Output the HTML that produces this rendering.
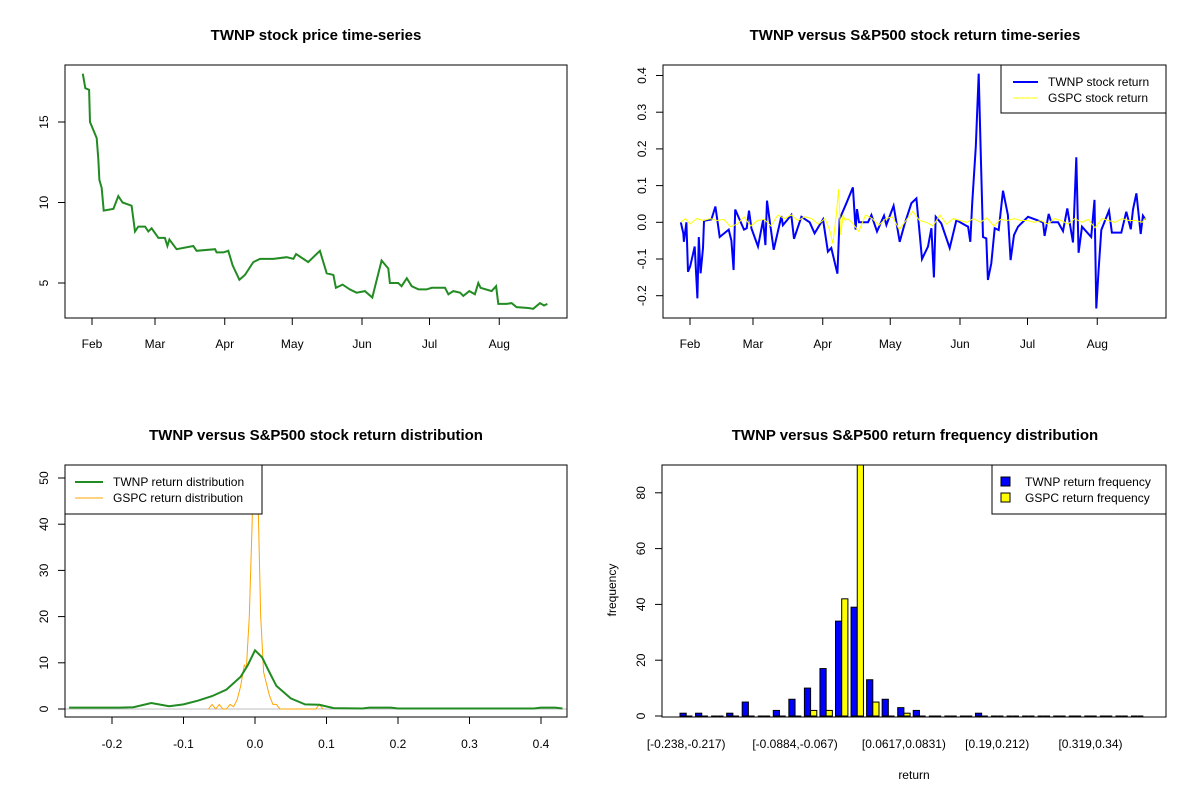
<!DOCTYPE html>
<html><head><meta charset="utf-8"><style>
body{margin:0;background:#fff}
svg{display:block;font-family:"Liberation Sans",Arial,sans-serif}
</style></head><body>
<svg id="c" width="1200" height="800" viewBox="0 0 1200 800">
<defs>
<clipPath id="cp3"><rect x="65" y="465" width="502" height="252"/></clipPath>
<clipPath id="cp4"><rect x="662" y="465" width="504" height="252"/></clipPath>
</defs>
</svg>
<script>
// ---- data ----
const priceDays=[-4.1,-3,-1.3,-0.9,2.1,2.8,3.3,4.3,5.2,9.5,11.7,13.6,17.6,19.1,20.6,23.6,25,26.5,29.5,32.4,33.5,34.4,37.6,45,46.5,54.7,55.4,58.4,60.6,62.5,65.5,68,71.7,74.7,80.6,86.5,89.5,90.7,96.1,101.3,104.3,107.3,108.4,111.4,114.6,117.6,121.3,124.6,128.7,131.7,132.4,136.1,137.6,139.9,142.1,145.1,148.7,151,156.9,158.4,160.6,163.6,165,167.7,170.2,171.7,172.7,177.6,179.6,180.6,184.3,186.5,188.7,193.9,196.1,199.1,200.9,202.4];
const priceVals=[18.0,17.1,17.0,15.0,14.0,12.7,11.4,10.9,9.5,9.6,10.4,10.0,9.8,8.2,8.5,8.5,8.2,8.4,7.8,7.8,7.3,7.7,7.1,7.3,7.0,7.1,6.9,6.9,7.0,6.1,5.2,5.5,6.3,6.5,6.5,6.6,6.5,6.8,6.3,7.0,5.6,5.5,4.7,4.9,4.6,4.4,4.5,4.1,6.4,5.9,5.0,5.0,4.8,5.3,4.8,4.6,4.6,4.7,4.7,4.3,4.5,4.4,4.2,4.5,4.3,5.0,4.7,4.5,4.8,3.7,3.7,3.75,3.5,3.45,3.4,3.75,3.6,3.7];
const retDays=[-4.1,-3,-2.7,-1.6,-0.9,0.1,2.1,3.3,3.9,4.7,5.8,6.2,9.5,11.3,13.2,17.2,18.4,19.4,20.1,24,25.2,26.2,27.3,30.2,32.5,33.5,34.2,35.4,37.2,40.6,41.3,45,46.2,49.5,53.2,55.4,59.1,61.3,62.8,65.5,66.5,69.5,72.4,73.6,74.2,75.1,79.1,80.6,83.1,86.2,87.3,90.5,93.2,95.4,98.4,100.6,103.1,105.8,107.3,108.4,109.2,111.7,115.4,118.4,122.1,123.6,124.6,125.4,127,128.3,129.2,130.2,131.7,132.4,133.9,135.4,137.2,139.1,141.3,142.5,144,145.8,150.2,156.9,157.6,159.4,160.6,163.6,165.8,167.7,170.2,171.7,172.7,174.2,178.3,179.8,180.6,181.6,182.8,186.2,187.5,191.7,193.9,195.9,196.9,198.4,200.3,201.3,202.4];
const twnpRet=[0,-0.03,-0.053,0,-0.135,-0.12,-0.066,-0.207,-0.04,-0.139,-0.07,0.004,0.008,0.043,-0.04,-0.02,-0.05,-0.13,0.035,-0.02,-0.016,0.032,-0.016,-0.066,0.006,-0.062,0.059,0.006,-0.075,0.017,-0.008,0.02,-0.045,0.015,0,-0.03,0.008,-0.08,-0.07,-0.14,0.009,0.052,0.095,-0.02,0.036,0,0,0.02,-0.025,0.018,-0.007,0.045,-0.053,-0.005,0.052,0.065,-0.1,-0.066,-0.016,-0.15,0.015,-0.003,-0.07,0.006,-0.007,-0.012,-0.053,0.052,0.206,0.405,0.193,-0.04,-0.044,-0.157,-0.112,-0.016,-0.021,0.086,0.02,-0.103,-0.035,-0.012,0.015,0,-0.037,0.023,0,0,-0.024,0.038,-0.055,0.177,-0.083,-0.012,-0.04,0.061,-0.235,-0.13,-0.021,0.032,-0.028,-0.028,0.029,-0.019,0.035,0.079,-0.032,0.018,0.008];
const gspcDays=[-4.1,-2,0,3,6,9,12,15,18,21,24,27,30,33,36,39,42,45,48,51,54,57,60,62,63.5,65,66,67,68,69,70,72,75,78,81,84,87,90,93,96,99,102,105,108,111,114,117,120,123,126,129,132,135,138,141,144,147,150,153,156,159,162,165,168,171,174,177,180,183,186,189,192,195,198,201,202.4];
const gspcRet=[0,0.01,-0.005,0.01,0.005,0.01,0.005,0.008,-0.012,-0.005,0.015,-0.01,0.005,0.008,-0.01,0.02,0.01,0.02,0.005,0.015,0.01,-0.005,0.01,-0.02,-0.058,0.02,0.09,-0.035,0.02,0.005,0.01,0,-0.025,0.02,0.01,-0.008,0.01,0.015,-0.02,0.005,0.03,0.005,0,-0.01,0.02,-0.005,0.01,0.005,0,0.01,0,0.012,-0.01,0.008,0.005,0.01,0.005,0.005,0,0.005,-0.005,0.01,0.005,-0.005,0.01,0,0.008,-0.015,0.01,0.005,0,0.01,0.005,0.005,0,0.012];
const monthLabels=["Feb","Mar","Apr","May","Jun","Jul","Aug"];
const monthDays=[0,28,59,89,120,150,181];
const twnpDensX=[-0.26,-0.19,-0.17,-0.145,-0.12,-0.1,-0.08,-0.06,-0.04,-0.02,-0.01,0,0.01,0.02,0.03,0.05,0.07,0.09,0.11,0.15,0.16,0.19,0.2,0.39,0.4,0.42,0.43];
const twnpDensY=[0.3,0.3,0.4,1.3,0.6,1,1.8,2.8,4.2,7,9.5,12.7,11.2,8,5,2.3,1,0.9,0.2,0.1,0.3,0.3,0.1,0.1,0.3,0.3,0.1];
const gspcDensX=[-0.065,-0.06,-0.055,-0.05,-0.045,-0.04,-0.035,-0.03,-0.025,-0.02,-0.015,-0.012,-0.008,-0.004,-0.002,0.002,0.005,0.008,0.012,0.02,0.025,0.03,0.035,0.085,0.09,0.095];
const gspcDensY=[0,1,0,1,0,0,1,0.5,2,5,9.5,9,20,40,60,60,40,20,8,3,1,1,0,0,1,0];
const binLabels=["[-0.238,-0.217)","[-0.0884,-0.067)","[0.0617,0.0831)","[0.19,0.212)","[0.319,0.34)"];
const binLabelIdx=[0,7,14,20,26];
const twnpFreq=[1,1,0,1,5,0,2,6,10,17,34,39,13,6,3,2,0,0,0,1,0,0,0,0,0,0,0,0,0,0];
const gspcFreq=[0,0,0,0,0,0,0,0,2,2,42,105,5,0,1,0,0,0,0,0,0,0,0,0,0,0,0,0,0,0];

const svg=document.getElementById('c');
const NS='http://www.w3.org/2000/svg';
function el(tag,attrs,parent){const e=document.createElementNS(NS,tag);for(const k in attrs)e.setAttribute(k,attrs[k]);(parent||svg).appendChild(e);return e;}
function txt(s,x,y,attrs,parent){const t=el('text',Object.assign({x:x,y:y,'font-size':12,fill:'#000','text-anchor':'middle'},attrs||{}),parent);t.textContent=s;return t;}
function pathOf(xs,ys,fx,fy){return xs.map((v,i)=>(i?'L':'M')+fx(v).toFixed(1)+','+fy(ys[i]).toFixed(1)).join('');}

// ---- Panel 1 ----
const dx=d=>92+d*2.25;
const p1y=v=>283-(v-5)*16.1;
let g=el('g',{});


let t=txt('TWNP stock price time-series',316,40,{'font-size':15,'font-weight':'bold'});

let r=el('rect',{x:65,y:65,width:502,height:253,fill:'none',stroke:'#000'},g);

let ln=el('path',{d:pathOf(priceDays,priceVals,dx,p1y),fill:'none',stroke:'#228B22','stroke-width':2},g);

[5,10,15].forEach(v=>{el('line',{x1:58,x2:65,y1:p1y(v),y2:p1y(v),stroke:'#000'},g);
 const tt=txt(String(v),48,p1y(v),{transform:`rotate(-90 48 ${p1y(v)})`},g);
 });
monthDays.forEach((d,i)=>{el('line',{x1:dx(d),x2:dx(d),y1:318,y2:325,stroke:'#000'},g);
 const tt=txt(monthLabels[i],dx(d),348,{},g);});

// ---- Panel 2 ----
const p2y=v=>222.3-v*367;
g=el('g',{});


t=txt('TWNP versus S&P500 stock return time-series',915,40,{'font-size':15,'font-weight':'bold'});

const dx2=d=>dx(d)+598;
ln=el('path',{d:pathOf(retDays,twnpRet,dx2,p2y),fill:'none',stroke:'#0000FF','stroke-width':2},g);

ln=el('path',{d:pathOf(gspcDays,gspcRet,dx2,p2y),fill:'none',stroke:'#FFFF00','stroke-width':1},g);

r=el('rect',{x:663,y:65,width:503,height:253,fill:'none',stroke:'#000'},g);

[-0.2,-0.1,0,0.1,0.2,0.3,0.4].forEach(v=>{el('line',{x1:656,x2:663,y1:p2y(v),y2:p2y(v),stroke:'#000'},g);
 const s=v===0?'0.0':v.toFixed(1);const tt=txt(s,646,p2y(v),{transform:`rotate(-90 646 ${p2y(v)})`},g);
 });
monthDays.forEach((d,i)=>{el('line',{x1:dx2(d),x2:dx2(d),y1:318,y2:325,stroke:'#000'},g);
 const tt=txt(monthLabels[i],dx2(d),348,{},g);});
let lg=el('g',{},g);
el('rect',{x:1001,y:65,width:165,height:48,fill:'#fff',stroke:'#000'},lg);
el('line',{x1:1013,x2:1038,y1:82,y2:82,stroke:'#0000FF','stroke-width':2},lg);
el('line',{x1:1013,x2:1038,y1:98,y2:98,stroke:'#FFFF00','stroke-width':1},lg);
txt('TWNP stock return',1048,86,{'text-anchor':'start'},lg);
txt('GSPC stock return',1048,102,{'text-anchor':'start'},lg);

// ---- Panel 3 ----
const p3x=v=>255+v*715;
const p3y=v=>709-v*4.62;
g=el('g',{});


t=txt('TWNP versus S&P500 stock return distribution',316,440,{'font-size':15,'font-weight':'bold'});

el('line',{x1:65,x2:567,y1:p3y(0),y2:p3y(0),stroke:'#bebebe'},g);
let cg=el('g',{'clip-path':'url(#cp3)'},g);
ln=el('path',{d:pathOf(gspcDensX,gspcDensY,p3x,p3y),fill:'none',stroke:'#FFA500','stroke-width':1},cg);

ln=el('path',{d:pathOf(twnpDensX,twnpDensY,p3x,p3y),fill:'none',stroke:'#228B22','stroke-width':2},cg);

r=el('rect',{x:65,y:465,width:502,height:252,fill:'none',stroke:'#000'},g);

[0,10,20,30,40,50].forEach(v=>{el('line',{x1:58,x2:65,y1:p3y(v),y2:p3y(v),stroke:'#000'},g);
 const tt=txt(String(v),48,p3y(v),{transform:`rotate(-90 48 ${p3y(v)})`},g);
 });
[-0.2,-0.1,0,0.1,0.2,0.3,0.4].forEach(v=>{el('line',{x1:p3x(v),x2:p3x(v),y1:717,y2:724,stroke:'#000'},g);
 const tt=txt(v===0?'0.0':v.toFixed(1),p3x(v),748,{},g);});
lg=el('g',{},g);
el('rect',{x:65,y:465,width:197,height:49,fill:'#fff',stroke:'#000'},lg);
el('line',{x1:75,x2:103,y1:482,y2:482,stroke:'#228B22','stroke-width':2},lg);
el('line',{x1:75,x2:103,y1:498,y2:498,stroke:'#FFA500','stroke-width':1},lg);
txt('TWNP return distribution',113,486,{'text-anchor':'start'},lg);
txt('GSPC return distribution',113,502,{'text-anchor':'start'},lg);

// ---- Panel 4 ----
const p4y=v=>716-v*2.79;
const grpX=i=>680+i*15.55;
const bw=6.2;
g=el('g',{});


t=txt('TWNP versus S&P500 return frequency distribution',915,440,{'font-size':15,'font-weight':'bold'});

cg=el('g',{'clip-path':'url(#cp4)'},g);
function drawBar(x,v,fill,name){
 let b;
 if(v>0){b=el('rect',{x:x,y:p4y(v),width:bw,height:716-p4y(v),fill:fill,stroke:'#000','stroke-width':1},cg);}
 else{b=el('line',{x1:x,x2:x+bw,y1:716,y2:716,stroke:'#000','stroke-width':1},cg);}
 
 
}
twnpFreq.forEach((v,i)=>drawBar(grpX(i),v,'#0000FF','twnp-freq-bar'));
gspcFreq.forEach((v,i)=>drawBar(grpX(i)+bw,v,'#FFFF00','gspc-freq-bar'));
r=el('rect',{x:662,y:465,width:504,height:252,fill:'none',stroke:'#000'},g);

[0,20,40,60,80].forEach(v=>{el('line',{x1:655,x2:662,y1:p4y(v),y2:p4y(v),stroke:'#000'},g);
 const tt=txt(String(v),645,p4y(v),{transform:`rotate(-90 645 ${p4y(v)})`},g);
 });
binLabelIdx.forEach((bi,k)=>{const tt=txt(binLabels[k],grpX(bi)+bw,748,{},g);
 });
t=txt('frequency',616,590,{transform:'rotate(-90 616 590)'});

t=txt('return',914,779,{});

lg=el('g',{},g);
el('rect',{x:992,y:465,width:174,height:49,fill:'#fff',stroke:'#000'},lg);
el('rect',{x:1001,y:477,width:9,height:9,fill:'#0000FF',stroke:'#000'},lg);
el('rect',{x:1001,y:493,width:9,height:9,fill:'#FFFF00',stroke:'#000'},lg);
txt('TWNP return frequency',1025,486,{'text-anchor':'start'},lg);
txt('GSPC return frequency',1025,502,{'text-anchor':'start'},lg);
</script>
</body></html>
